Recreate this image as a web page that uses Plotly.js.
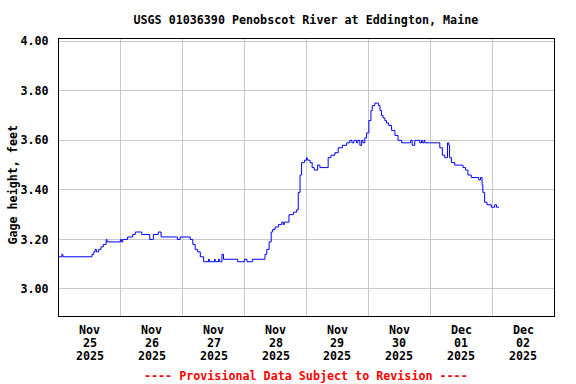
<!DOCTYPE html>
<html>
<head>
<meta charset="utf-8">
<script src="https://cdn.plot.ly/plotly-3.0.1.min.js"></script>
<style>
html,body{margin:0;padding:0;background:#fff;}
#chart{width:576px;height:384px;}
</style>
</head>
<body>
<div id="chart"></div>
<script>
// ---- data ----
const startDate = Date.UTC(2025, 10, 25, 0, 0);
const hoursFromStart = [
  0.0, 1.1, 1.5, 12.1, 12.8, 13.5, 14.0, 14.5, 15.4, 16.3, 17.2, 18.3, 18.6, 23.7,
  23.8, 24.2, 24.7, 25.4, 26.6, 28.6, 29.6, 32.1, 35.0, 35.2, 36.2, 36.6, 37.6, 38.5, 39.6,
  45.5, 45.9, 47.0, 50.2, 50.9, 51.9, 52.8, 53.7, 54.8, 56.1, 58.0, 58.3, 60.3, 60.6, 61.9, 62.2,
  62.8, 63.2, 63.8, 69.0, 69.3, 71.9, 72.9, 75.0, 79.3,
  79.9, 80.6, 81.5, 82.3, 82.9, 83.8, 85.1, 86.4, 87.0, 87.4, 87.7, 89.2, 90.9, 92.2, 92.8,
  93.5, 94.1, 95.2, 96.0, 96.3, 96.7, 97.4, 98.2, 99.0, 100.3, 101.2, 103.2, 104.4, 105.5,
  107.0, 108.3, 109.9, 111.6, 112.8, 113.6, 114.4, 115.4, 115.9, 116.7, 117.4, 117.9, 118.6,
  119.3, 120.2, 121.0, 121.5, 122.5, 123.6, 123.9, 124.5, 125.1, 125.7, 126.4, 127.0, 127.9,
  129.0, 130.3, 131.5, 132.9, 136.1, 136.4, 137.0, 138.0, 138.7, 139.9, 140.6, 140.9, 141.6,
  141.9, 143.8, 146.4, 147.7, 148.7, 149.6, 150.3, 150.7, 151.2, 151.5, 152.2, 153.5, 154.8,
  156.1, 156.7, 157.7, 158.6, 159.9, 162.5, 162.8, 163.5, 164.1, 164.4, 165.1, 166.0, 167.7,
  169.0, 169.7, 170.6
];
const gageHeight = [
  3.13, 3.14, 3.13, 3.13, 3.14, 3.15, 3.16, 3.15, 3.16, 3.17, 3.18, 3.20, 3.19, 3.19,
  3.20, 3.19, 3.20, 3.20, 3.21, 3.22, 3.23, 3.22, 3.22, 3.20, 3.20, 3.22, 3.22, 3.23, 3.21,
  3.21, 3.20, 3.21, 3.21, 3.20, 3.18, 3.16, 3.15, 3.13, 3.11, 3.12, 3.11, 3.12, 3.11, 3.12, 3.11,
  3.11, 3.14, 3.12, 3.12, 3.11, 3.12, 3.11, 3.12, 3.12,
  3.14, 3.16, 3.19, 3.23, 3.24, 3.25, 3.26, 3.27, 3.26, 3.27, 3.27, 3.30, 3.31, 3.32, 3.39,
  3.46, 3.51, 3.52, 3.53, 3.52, 3.52, 3.51, 3.49, 3.48, 3.50, 3.49, 3.49, 3.53, 3.54,
  3.55, 3.57, 3.58, 3.59, 3.60, 3.59, 3.60, 3.59, 3.60, 3.58, 3.60, 3.59, 3.61,
  3.63, 3.68, 3.72, 3.74, 3.75, 3.75, 3.74, 3.72, 3.70, 3.69, 3.68, 3.67, 3.66,
  3.64, 3.62, 3.60, 3.59, 3.59, 3.60, 3.58, 3.60, 3.60, 3.59, 3.60, 3.59, 3.60,
  3.59, 3.59, 3.59, 3.57, 3.54, 3.53, 3.53, 3.59, 3.58, 3.53, 3.51, 3.50, 3.50,
  3.50, 3.49, 3.48, 3.46, 3.45, 3.45, 3.44, 3.45, 3.42, 3.39, 3.35, 3.34, 3.33,
  3.34, 3.33, 3.33
];
const tickMonths = ['Nov', 'Nov', 'Nov', 'Nov', 'Nov', 'Nov', 'Dec', 'Dec'];
const tickDays = ['25', '26', '27', '28', '29', '30', '01', '02'];
const tickYears = ['2025', '2025', '2025', '2025', '2025', '2025', '2025', '2025'];
const chartTitle = 'USGS 01036390 Penobscot River at Eddington, Maine';
const yTitle = 'Gage height, feet';
const footnote = '---- Provisional Data Subject to Revision ----';

// ---- build ----
function fmt(ms) {
  const d = new Date(ms);
  const p = n => String(n).padStart(2, '0');
  return d.getUTCFullYear() + '-' + p(d.getUTCMonth() + 1) + '-' + p(d.getUTCDate()) +
    ' ' + p(d.getUTCHours()) + ':' + p(d.getUTCMinutes());
}
const xs = hoursFromStart.map(h => fmt(startDate + h * 3600e3));
const FONT = {family: 'DejaVu Sans Mono, Liberation Mono, monospace', size: 11.7, color: '#000', weight: 'bold'};

const annotations = [];
const rows = [tickMonths, tickDays, tickYears];
const rowY = [-0.0517, -0.0987, -0.1456];
rows.forEach((row, r) => {
  row.forEach((t, i) => {
    annotations.push({
      text: t, x: fmt(startDate + (i * 24 + 12) * 3600e3), xref: 'x',
      y: rowY[r], yref: 'paper', xanchor: 'center', yanchor: 'middle',
      showarrow: false, font: FONT
    });
  });
});
annotations.push({
  text: yTitle, textangle: -90, x: -0.092, xref: 'paper', y: 0.476, yref: 'paper',
  xanchor: 'center', yanchor: 'middle', showarrow: false, font: FONT
});
annotations.push({
  text: footnote, x: 0.499, xref: 'paper', y: -0.218, yref: 'paper',
  xanchor: 'center', yanchor: 'middle', showarrow: false,
  font: Object.assign({}, FONT, {color: '#ff0000'})
});

const trace = {
  x: xs, y: gageHeight, type: 'scatter', mode: 'lines',
  line: {color: '#0000ff', width: 1, shape: 'hv'},
  hoverinfo: 'skip'
};

const layout = {
  width: 576, height: 384,
  margin: {l: 58.5, r: 22, t: 39, b: 68.3, pad: 0},
  paper_bgcolor: '#fff', plot_bgcolor: '#fff',
  showlegend: false,
  title: {text: chartTitle, font: FONT, x: 0.531, xanchor: 'center',
          y: 1 - 20 / 384, yref: 'container', yanchor: 'middle'},
  xaxis: {
    type: 'date', range: ['2025-11-25 00:00', '2025-12-03 00:00'],
    tick0: '2025-11-25', dtick: 86400000, showticklabels: false, ticks: '',
    showgrid: true, gridcolor: '#c8c8c8', gridwidth: 1,
    showline: true, mirror: true, linecolor: '#000', linewidth: 1, zeroline: false
  },
  yaxis: {
    range: [2.891, 4.009], tick0: 3, dtick: 0.2, tickformat: '.2f',
    showgrid: true, gridcolor: '#c8c8c8', gridwidth: 1, ticks: '',
    ticklabelstandoff: 7,
    tickfont: FONT, showline: true, mirror: true, linecolor: '#000', linewidth: 1,
    zeroline: false
  },
  annotations: annotations
};

Plotly.newPlot('chart', [trace], layout, {staticPlot: true, displayModeBar: false});
</script>
</body>
</html>
